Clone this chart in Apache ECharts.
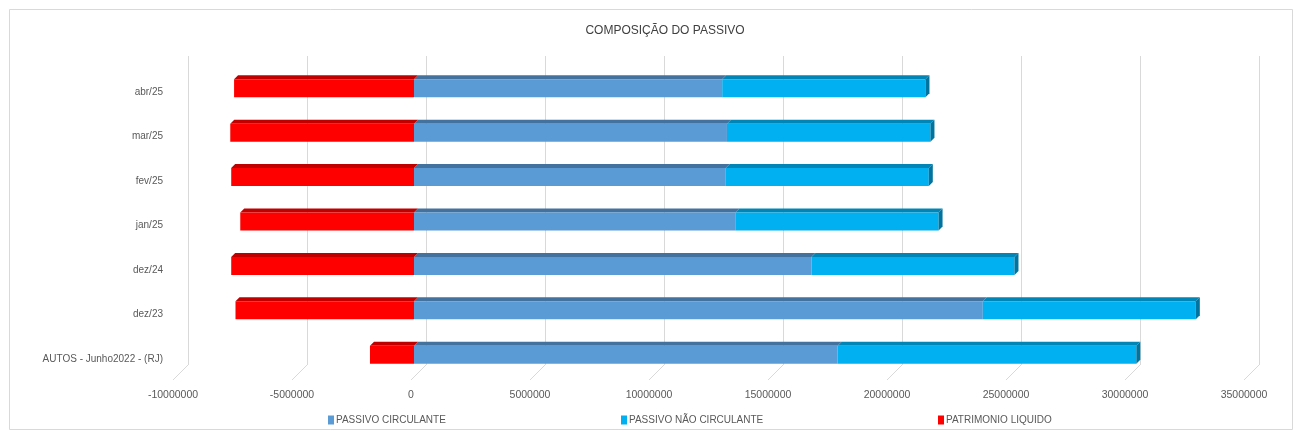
<!DOCTYPE html>
<html>
<head>
<meta charset="utf-8">
<script src="https://cdn.jsdelivr.net/npm/echarts@6/dist/echarts.min.js"></script>
<style>
html,body{margin:0;padding:0;background:#fff;}
#chart{width:1302px;height:438px;}
</style>
</head>
<body>
<div id="chart"></div>
<script>
const categories = ["AUTOS - Junho2022 - (RJ)", "dez/23", "dez/24", "jan/25", "fev/25", "mar/25", "abr/25"];
const passivoCirculante = [17800000, 23900000, 16700000, 13500000, 13100000, 13150000, 12950000];
const passivoNaoCirculante = [12550000, 8950000, 8530000, 8540000, 8530000, 8550000, 8540000];
const patrimonioLiquido = [-1850000, -7500000, -7680000, -7300000, -7680000, -7720000, -7560000];
const xTicks = [-10000000, -5000000, 0, 5000000, 10000000, 15000000, 20000000, 25000000, 30000000, 35000000];
const seriesNames = ["PASSIVO CIRCULANTE", "PASSIVO NÃO CIRCULANTE", "PATRIMONIO LIQUIDO"];

const FONT = "'Liberation Sans', sans-serif";
const chart = echarts.init(document.getElementById('chart'), null, {renderer: 'canvas'});

// stacked segments [start, end, categoryIndex]
const pcData = categories.map((c, i) => [0, passivoCirculante[i], i]);
const pncData = categories.map((c, i) => [passivoCirculante[i], passivoCirculante[i] + passivoNaoCirculante[i], i]);
const plData = categories.map((c, i) => [0, patrimonioLiquido[i], i]);

function bar3D(front, top, side, withSide) {
  return function (params, api) {
    const a = api.coord([api.value(0), api.value(2)]);
    const b = api.coord([api.value(1), api.value(2)]);
    const h = 18, d = 4;
    const cy = a[1];
    const x0 = Math.min(a[0], b[0]), x1 = Math.max(a[0], b[0]);
    const y0 = cy - h / 2, y1 = cy + h / 2;
    const children = [
      {type: 'polygon', shape: {points: [[x0, y0], [x0 + d, y0 - d], [x1 + d, y0 - d], [x1, y0]]}, style: {fill: top}},
      {type: 'rect', shape: {x: x0, y: y0, width: x1 - x0, height: h}, style: {fill: front}}
    ];
    if (withSide) {
      children.push({type: 'polygon', shape: {points: [[x1, y0], [x1 + d, y0 - d], [x1 + d, y1 - d], [x1, y1]]}, style: {fill: side}});
    }
    return {type: 'group', children: children};
  };
}

const legendBase = {
  bottom: 8, itemWidth: 6, itemHeight: 9, icon: 'rect', itemGap: 4,
  textStyle: {fontFamily: FONT, fontSize: 10, color: '#595959', padding: [0, 0, 0, -3]}
};

const option = {
  backgroundColor: '#fff',
  animation: false,
  title: {
    text: 'COMPOSIÇÃO DO PASSIVO',
    left: 660, top: 20, textAlign: 'center',
    textStyle: {fontFamily: FONT, fontSize: 12, fontWeight: 'normal', color: '#404040'}
  },
  legend: [
    Object.assign({}, legendBase, {data: [seriesNames[0]], left: 323}),
    Object.assign({}, legendBase, {data: [seriesNames[1]], left: 616}),
    Object.assign({}, legendBase, {data: [seriesNames[2]], left: 933})
  ],
  graphic: [{
    type: 'rect', shape: {x: 9.5, y: 9.5, width: 1283, height: 420},
    style: {fill: 'none', stroke: '#d9d9d9', lineWidth: 1}, silent: true, z: -10
  }],
  grid: [
    {left: 176, width: 1071, top: 66, height: 311},
    {left: 188, width: 1071, top: 56, height: 309},
    {left: 176, width: 1071, top: 70, height: 311}
  ],
  xAxis: [
    {
      type: 'value', gridIndex: 0, min: -10000000, max: 35000000, interval: 5000000,
      axisLine: {show: false}, axisTick: {show: false}, splitLine: {show: false},
      axisLabel: {fontFamily: FONT, fontSize: 10.5, color: '#595959', margin: 13, padding: [0, 6, 0, 0],
        formatter: function (v) { return String(v); }}
    },
    {
      type: 'value', gridIndex: 1, min: -10000000, max: 35000000, interval: 5000000,
      axisLine: {show: false}, axisTick: {show: false}, axisLabel: {show: false},
      splitLine: {show: true, lineStyle: {color: '#d9d9d9', width: 1}}
    },
    {
      type: 'value', gridIndex: 2, min: -10000000, max: 35000000, show: false
    }
  ],
  yAxis: [
    {
      type: 'category', gridIndex: 0, data: categories,
      axisLine: {show: false}, axisTick: {show: false}, axisLabel: {show: false}
    },
    {type: 'value', gridIndex: 1, show: false, min: 0, max: 1},
    {
      type: 'category', gridIndex: 2, data: categories,
      axisLine: {show: false}, axisTick: {show: false}, splitLine: {show: false},
      axisLabel: {fontFamily: FONT, fontSize: 10, color: '#595959', margin: 13}
    }
  ],
  series: [
    {
      name: 'floor', type: 'custom', xAxisIndex: 0, yAxisIndex: 0, silent: true, z: 0,
      data: xTicks.map(v => [v]),
      renderItem: function (params, api) {
        const p = api.coord([api.value(0), 0]);
        return {type: 'line', shape: {x1: p[0] + 12, y1: 365, x2: p[0] - 3, y2: 380},
          style: {stroke: '#d9d9d9', lineWidth: 1}};
      }
    },
    {
      name: seriesNames[0], type: 'custom', xAxisIndex: 0, yAxisIndex: 0, z: 2,
      itemStyle: {color: '#5B9BD5'},
      encode: {x: [0, 1], y: 2},
      data: pcData,
      renderItem: bar3D('#5B9BD5', '#44729E', '#3A6790', false)
    },
    {
      name: seriesNames[1], type: 'custom', xAxisIndex: 0, yAxisIndex: 0, z: 2,
      itemStyle: {color: '#00B0F0'},
      encode: {x: [0, 1], y: 2},
      data: pncData,
      renderItem: bar3D('#00B0F0', '#0085B6', '#00739E', true)
    },
    {
      name: seriesNames[2], type: 'custom', xAxisIndex: 0, yAxisIndex: 0, z: 2,
      itemStyle: {color: '#FF0000'},
      encode: {x: [0, 1], y: 2},
      data: plData,
      renderItem: bar3D('#FF0000', '#C00000', '#A00000', false)
    }
  ]
};
chart.setOption(option);
</script>
</body>
</html>
